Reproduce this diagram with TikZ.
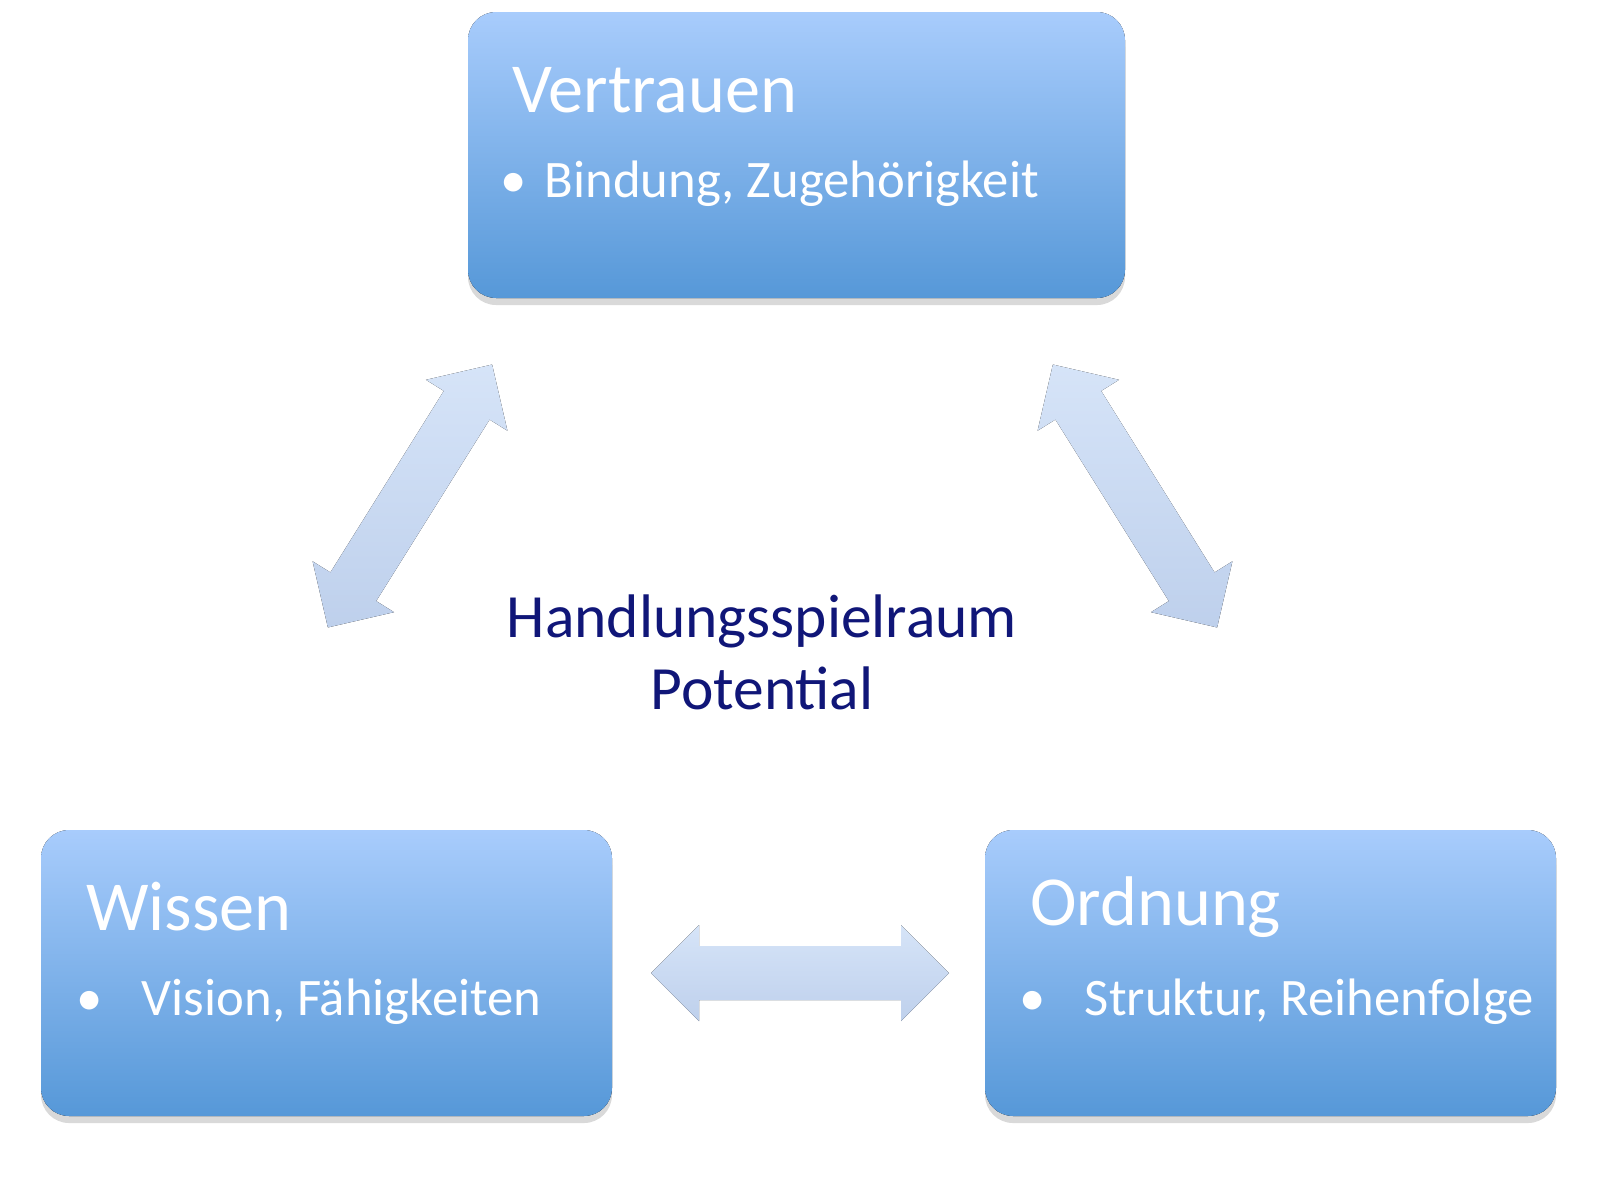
\documentclass[tikz,border=0pt]{standalone}
\usepackage{fontspec}
\setmainfont{Carlito}
\usetikzlibrary{shadows}
\definecolor{btop}{RGB}{168,204,252}
\definecolor{bbot}{RGB}{86,152,216}
\definecolor{atop}{RGB}{214,228,248}
\definecolor{abot}{RGB}{190,208,236}
\definecolor{navy}{RGB}{16,22,120}
\tikzset{
 box/.style={rounded corners=16pt, top color=btop, bottom color=bbot, draw=none,
   drop shadow={shadow xshift=0pt, shadow yshift=-4pt, opacity=0.3}},
 title/.style={text=white, font=\fontsize{40}{46}\selectfont, anchor=west},
 item/.style={text=white, font=\fontsize{30}{36}\selectfont, anchor=west},
 arr/.style={top color=atop, bottom color=abot, draw=none}
}
\newcommand{\dblarrow}[3]{% center, angle, length(px)
 \begin{scope}[shift={#1}, rotate=#2]
  \fill[arr] (-#3/2,0) -- (-#3/2+48,48) -- (-#3/2+48,27) -- (#3/2-48,27) -- (#3/2-48,48) -- (#3/2,0)
    -- (#3/2-48,-48) -- (#3/2-48,-27) -- (-#3/2+48,-27) -- (-#3/2+48,-48) -- cycle;
 \end{scope}}
\begin{document}
\begin{tikzpicture}[x=0.02cm,y=-0.02cm]
\useasboundingbox (0,0) rectangle (1600,1200);
\fill[box] (468,12) rectangle (1125,298);
\fill[box] (41,830) rectangle (612,1116);
\fill[box] (985,830) rectangle (1556,1116);
\node[title] (t1) at (506,90) {Vertrauen};
\node[item] (i1) at (494,184) {•\hspace{0.35em}Bindung, Zugehörigkeit};
\node[title] (t2) at (80,907) {Wissen};
\node[item] (i2) at (70,1002) {•\hspace{0.75em}Vision, Fähigkeiten};
\node[title] (t3) at (1024,907) {Ordnung};
\node[item] (i3) at (1013,1002) {•\hspace{0.75em}Struktur, Reihenfolge};
\node[text=navy, align=center, font=\fontsize{35}{41}\selectfont] (c) at (762,652) {Handlungsspielraum\\Potential};
\dblarrow{(800,973)}{0}{298}
\dblarrow{(410,496)}{58}{310}
\dblarrow{(1135,496)}{-58}{310}
\end{tikzpicture}
\end{document}
